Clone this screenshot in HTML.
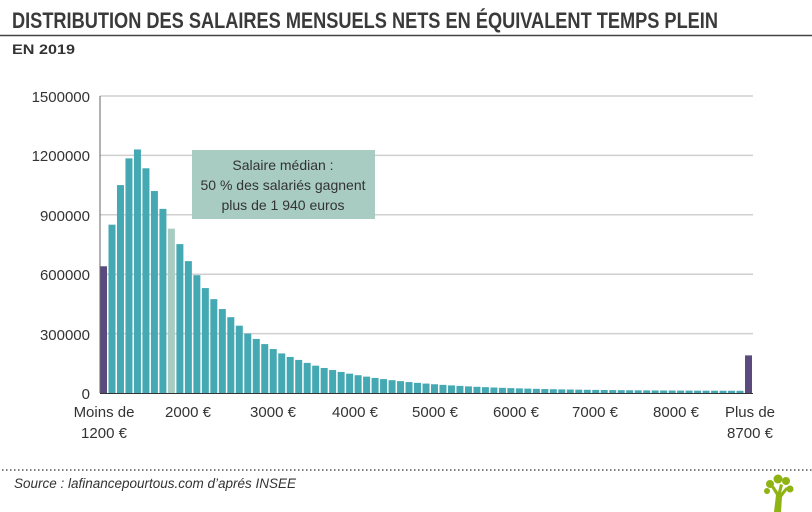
<!DOCTYPE html>
<html><head><meta charset="utf-8"><style>
html,body{margin:0;padding:0;background:#fff;}
svg{display:block;font-family:"Liberation Sans",sans-serif;}
</style></head><body>
<svg width="812" height="512" viewBox="0 0 812 512" xmlns="http://www.w3.org/2000/svg">
<text x="12" y="28" font-size="22" font-weight="bold" fill="#3a3a3a" textLength="706" lengthAdjust="spacingAndGlyphs">DISTRIBUTION DES SALAIRES MENSUELS NETS EN ÉQUIVALENT TEMPS PLEIN</text>
<line x1="0" y1="35.5" x2="812" y2="35.5" stroke="#444" stroke-width="1.5"/>
<text x="12" y="54" font-size="14" font-weight="bold" fill="#333" textLength="63" lengthAdjust="spacingAndGlyphs">EN 2019</text>
<g stroke="#cfcfcf" stroke-width="1.5">
<line x1="100" y1="96" x2="753" y2="96"/>
<line x1="100" y1="155.4" x2="753" y2="155.4"/>
<line x1="100" y1="214.8" x2="753" y2="214.8"/>
<line x1="100" y1="274.2" x2="753" y2="274.2"/>
<line x1="100" y1="333.6" x2="753" y2="333.6"/>
</g>
<g font-size="15" fill="#333" text-anchor="end">
<text x="90" y="102">1500000</text>
<text x="90" y="161">1200000</text>
<text x="90" y="221">900000</text>
<text x="90" y="280">600000</text>
<text x="90" y="340">300000</text>
<text x="90" y="399">0</text>
</g>
<g id="bars"></g>
<line x1="100" y1="96" x2="100" y2="393" stroke="#666" stroke-width="1"/>
<line x1="100" y1="393.5" x2="753" y2="393.5" stroke="#333" stroke-width="1"/>
<rect x="192" y="150" width="183" height="69" fill="#a8cbc2"/>
<g font-size="14" fill="#333" text-anchor="middle">
<text x="283" y="170">Salaire médian :</text>
<text x="283" y="190">50 % des salariés gagnent</text>
<text x="283" y="210">plus de 1 940 euros</text>
</g>
<g font-size="15" fill="#333" text-anchor="middle">
<text x="104" y="417">Moins de</text>
<text x="104" y="438">1200 €</text>
<text x="188" y="417">2000 €</text>
<text x="273" y="417">3000 €</text>
<text x="355" y="417">4000 €</text>
<text x="435" y="417">5000 €</text>
<text x="516" y="417">6000 €</text>
<text x="595" y="417">7000 €</text>
<text x="676" y="417">8000 €</text>
<text x="750" y="417">Plus de</text>
<text x="750" y="438">8700 €</text>
</g>
<line x1="2" y1="470" x2="812" y2="470" stroke="#555" stroke-width="1.5" stroke-dasharray="1.5,2.5"/>
<text x="14" y="488" font-size="13.5" font-style="italic" fill="#333" textLength="282" lengthAdjust="spacingAndGlyphs">Source : lafinancepourtous.com d’aprés INSEE</text>
<g fill="#8fb314">
<path d="M774 512 L776 495 L771 487 L774 486 L778 492 L780 484 L783 485 L781 493 L786 487 L788 489 L782 497 L781 512 Z"/>
<circle cx="770" cy="484" r="4"/><circle cx="778" cy="479" r="4.5"/><circle cx="786" cy="481" r="4"/><circle cx="790" cy="489" r="3.5"/><circle cx="767" cy="491" r="3"/>
</g>
</svg>
<script>
(function(){
var v=[640000,850000,1050000,1185000,1230000,1135000,1020000,930000,830000,752000,666000,595000,530000,474000,424000,383000,340000,300000,273000,247000,222000,200000,182000,167000,152000,138000];
for(var i=26;i<76;i++){v.push(10000+128000*Math.pow(0.91,i-25));}
v.push(190000);
var g=document.getElementById('bars'),ns='http://www.w3.org/2000/svg',s='';
for(var i=0;i<v.length;i++){
 var h=v[i]/1500000*297, x=100+i*8.487;
 var c=(i==0||i==76)?'#5a4a7d':(i==8?'#a8cbc2':'#45a9b3');
 var r=document.createElementNS(ns,'rect');
 r.setAttribute('x',x.toFixed(2));r.setAttribute('y',(393-h).toFixed(2));
 r.setAttribute('width','7');r.setAttribute('height',h.toFixed(2));r.setAttribute('fill',c);
 g.appendChild(r);
}
})();
</script>
</body></html>
